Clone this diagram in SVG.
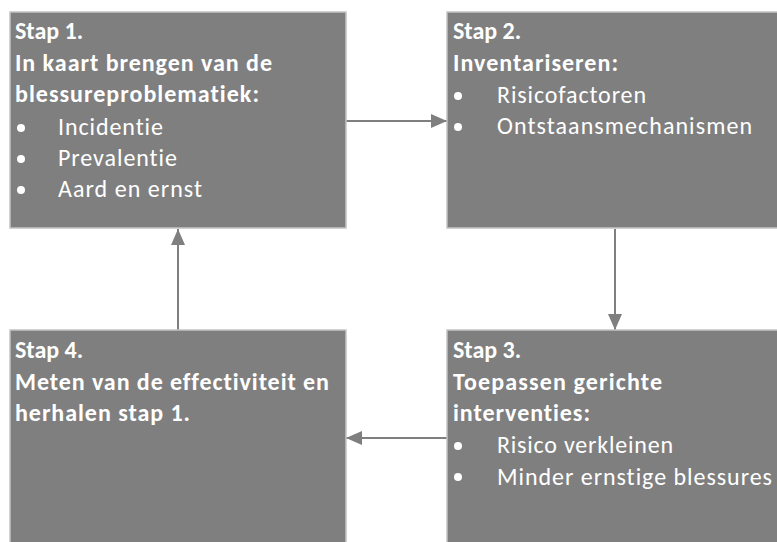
<svg xmlns="http://www.w3.org/2000/svg" width="777" height="542" viewBox="0 0 777 542">
<defs>
<style>
.box{fill:#7f7f7f;stroke:#c4c4c4;stroke-width:1.5}
.t{font-family:Carlito,Lato,"Open Sans",sans-serif;font-size:24px;fill:#ffffff;font-variant-ligatures:none}
.b{font-weight:bold}
.r{font-weight:300}
.dot{fill:#ffffff}
.edge{stroke:#7f7f7f;stroke-width:2;fill:none}
</style>
<marker id="ah" viewBox="0 0 16 14" refX="16" refY="7" markerWidth="16" markerHeight="14" markerUnits="userSpaceOnUse" orient="auto">
<path d="M0,0 L16,7 L0,14 Z" fill="#7f7f7f"/>
</marker>
</defs>
<rect width="777" height="542" fill="#ffffff"/>
<g id="connectors">
<line class="edge" x1="346" y1="121" x2="447" y2="121" marker-end="url(#ah)"/>
<line class="edge" x1="615" y1="229" x2="615" y2="330" marker-end="url(#ah)"/>
<line class="edge" x1="447" y1="438" x2="346" y2="438" marker-end="url(#ah)"/>
<line class="edge" x1="178" y1="330" x2="178" y2="229" marker-end="url(#ah)"/>
</g>
<g id="stap1">
<rect class="box" x="10" y="12" width="336" height="216"/>
<text class="t b" x="15" y="39">Stap 1.</text>
<text class="t b" x="15" y="71" textLength="257">In kaart brengen van de</text>
<text class="t b" x="15" y="102" textLength="244">blessureproblematiek:</text>
<circle class="dot" cx="21" cy="128" r="4"/>
<circle class="dot" cx="21" cy="159" r="4"/>
<circle class="dot" cx="21" cy="190" r="4"/>
<text class="t r" x="58" y="135" textLength="105">Incidentie</text>
<text class="t r" x="58" y="166" textLength="119">Prevalentie</text>
<text class="t r" x="58" y="197" textLength="144">Aard en ernst</text>
</g>
<g id="stap2">
<rect class="box" x="447" y="12" width="340" height="216"/>
<text class="t b" x="453" y="39">Stap 2.</text>
<text class="t b" x="453" y="71" textLength="165">Inventariseren:</text>
<circle class="dot" cx="458" cy="96" r="4"/>
<circle class="dot" cx="458" cy="127" r="4"/>
<text class="t r" x="497" y="103" textLength="149">Risicofactoren</text>
<text class="t r" x="497" y="134" textLength="255">Ontstaansmechanismen</text>
</g>
<g id="stap3">
<rect class="box" x="447" y="330" width="340" height="230"/>
<text class="t b" x="453" y="358">Stap 3.</text>
<text class="t b" x="453" y="390" textLength="209">Toepassen gerichte</text>
<text class="t b" x="453" y="421" textLength="137">interventies:</text>
<circle class="dot" cx="458" cy="446" r="4"/>
<circle class="dot" cx="458" cy="477" r="4"/>
<text class="t r" x="497" y="453" textLength="176">Risico verkleinen</text>
<text class="t r" x="497" y="485" textLength="275">Minder ernstige blessures</text>
</g>
<g id="stap4">
<rect class="box" x="10" y="330" width="336" height="230"/>
<text class="t b" x="15" y="358">Stap 4.</text>
<text class="t b" x="15" y="390" textLength="314">Meten van de effectiviteit en</text>
<text class="t b" x="15" y="421" textLength="175">herhalen stap 1.</text>
</g>
</svg>
